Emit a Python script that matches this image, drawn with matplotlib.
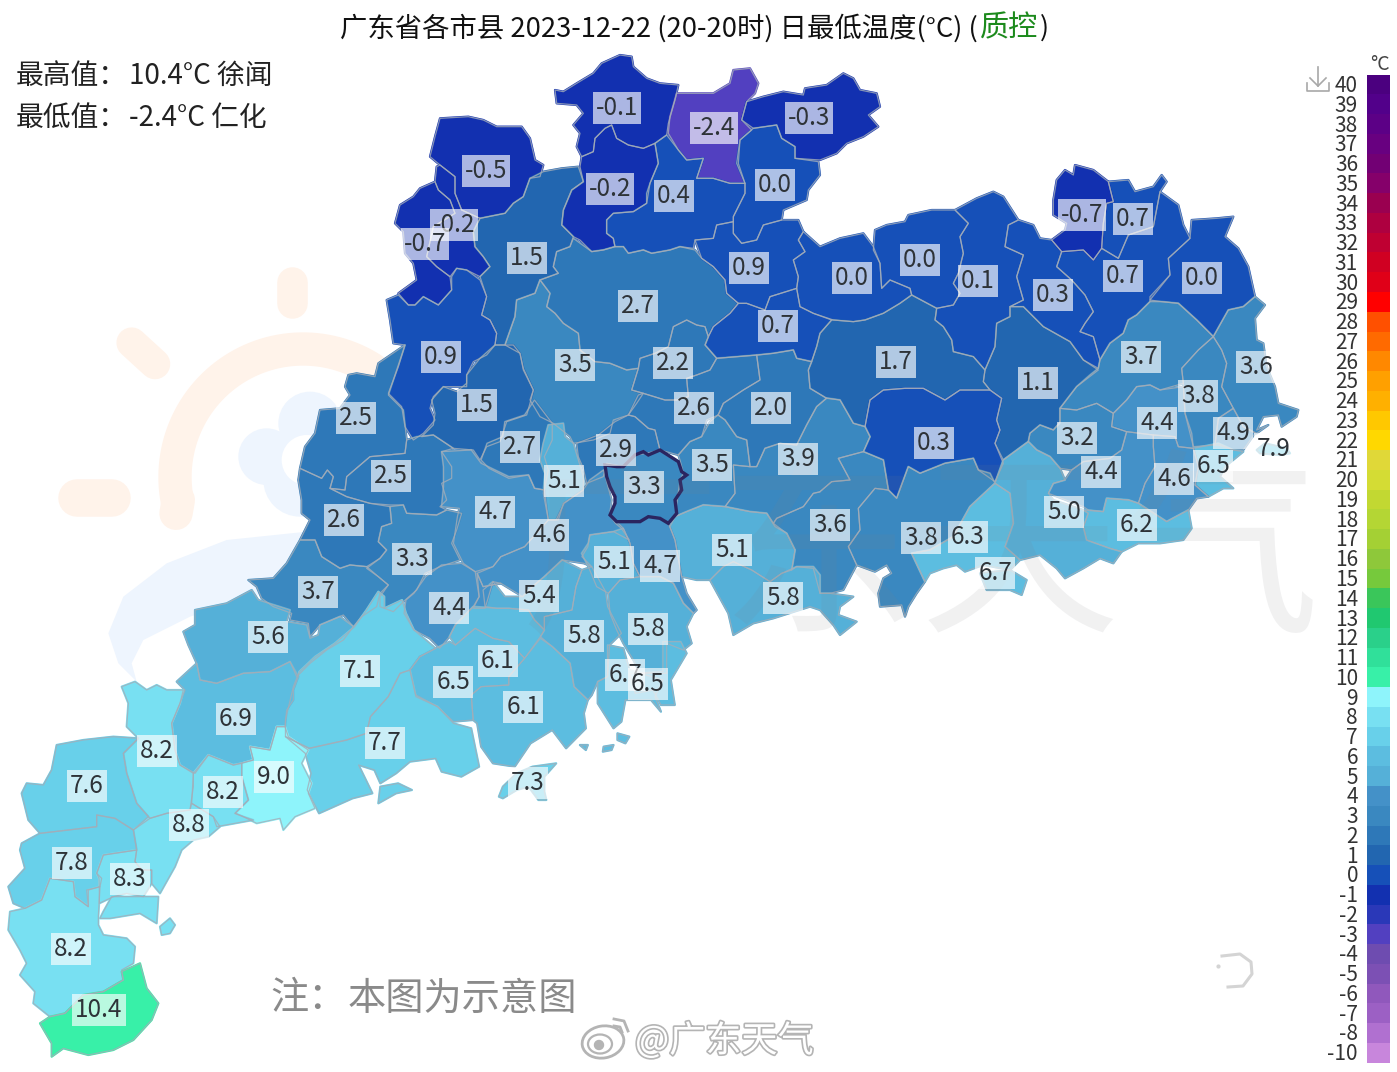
import numpy as np
import matplotlib
matplotlib.use("Agg")
import matplotlib.pyplot as plt
from matplotlib.collections import PolyCollection
from matplotlib.colors import ListedColormap, BoundaryNorm
from matplotlib.patches import Circle, Ellipse, Polygon
import matplotlib.patheffects as pe

plt.rcParams['font.family'] = ['Noto Sans CJK SC', 'DejaVu Sans']

# ---------- data ----------
legend_labels = [40,39,38,37,36,35,34,33,32,31,30,29,28,27,26,25,24,23,22,21,20,19,18,17,16,15,14,13,12,11,10,
                 9,8,7,6,5,4,3,2,1,0,-1,-2,-3,-4,-5,-6,-7,-8,-10]
legend_colors = ['#4b007f','#52008a','#5c0086','#680080','#720074','#85006a','#9a0050','#ae0040','#bf0032','#d00022',
                 '#e00018','#ff0000','#ff5000','#ff6a00','#ff8800','#ffa000','#ffb000','#ffc800','#ffd800','#e0d838',
                 '#d4dc34','#c2d832','#b4d634','#a4d034','#8ec83a','#76c93c','#3ac65a','#20c870','#2ad08a','#30e09a',
                 '#38f0a8','#8ef4fb','#78e0f2','#68d0ea','#5cbde0','#55b0d8','#4491c8','#3a88c0','#2e78b8','#2266b0',
                 '#1650b8','#1230b0','#2a38b8','#5240c0','#6e4cb0','#7c50b4','#9058bc','#9c60c4','#b070d0','#c886dc']

county_ids = ['n01','n02','n03','n04','n05','n06','n07','n08','n09','n10','n11','n12','n13','n14','n15','n16','n17','n18','n19','n20',
              'n21','n22','n23','n24','n25','n26','n27','n28','n29','n30','n31','n32','n33','n34','n35','n36','n37','n38','n39','n40',
              'n41','n42','n43','n44','n45','n46','n47','n48','n49','n50','n51','n52','n53','n54','n55','n56','n57','n58','n59','n60',
              'n61','n62','n63','n64','n65','n66','n67','n68','n69','n70','n71','n72','n73','n74','n75','n76','n77','n78','n79','n80',
              'n81','n82','n83','n84','n85','n86']
min_temps = [-0.1,-2.4,-0.3,-0.5,-0.2,0.4,0.0,-0.2,-0.7,1.5,2.7,0.9,0.0,0.0,0.1,0.3,0.7,0.7,-0.7,0.0,
             0.7,0.9,3.5,2.2,1.7,1.1,3.7,3.6,3.8,1.5,2.6,2.0,2.5,4.4,4.9,7.9,3.2,0.3,2.7,2.9,
             3.5,3.9,6.5,4.4,4.6,2.5,5.1,3.3,4.7,5.0,6.2,2.6,3.6,4.6,3.8,6.3,5.1,3.3,5.1,4.7,
             6.7,3.7,5.4,5.8,4.4,5.8,5.6,5.8,6.1,7.1,6.7,6.5,6.5,6.1,6.9,7.7,8.2,9.0,7.3,7.6,
             8.2,8.8,7.8,8.3,8.2,10.4]
label_x = [617,714,809,486,610,674,775,454,425,527,638,749,852,920,978,1053,1123,1133,1082,1202,
           778,441,575,673,896,1038,1141,1256,1198,477,694,771,356,1157,1233,1274,1077,934,520,616,
           712,798,1213,1101,1174,391,564,644,495,1064,1137,344,830,549,921,968,732,412,614,660,
           995,318,539,783,449,648,268,584,498,360,625,453,648,523,236,385,157,274,528,87,
           223,189,72,130,71,99]
label_y = [106,126,116,169,187,194,183,223,242,256,304,266,276,258,279,293,274,217,213,276,
           324,355,363,361,360,381,355,365,394,403,406,406,416,421,431,447,436,441,445,448,
           463,457,464,470,477,474,479,485,510,510,523,518,523,533,536,535,548,557,560,564,
           571,590,594,596,606,627,635,634,659,669,673,680,682,705,717,741,749,775,781,784,
           790,823,861,877,947,1008]


def G(ox, oy, sx=3.0, sy=3.0):
    return lambda pts: [(ox + x / sx, oy + y / sy) for x, y in pts]

G1 = G(380, 50)
G2 = G(820, 160)
G3 = G(240, 400, 2.53, 3.0)
G4 = G(240, 350)
G5 = G(520, 380)
G6 = G(0, 670)
G7 = G(40, 250)

county_outlines = {
 'n01': [G1([(525,120),(550,125),(590,100),(640,70),(665,40),(720,15),(755,20),(760,50),(800,85),(840,100),(895,105),(885,150),(865,220),(860,255),(825,280),(790,295),(745,285),(710,265),(695,225),(675,235),(645,265),(640,305),(605,320),(590,290),(600,250),(580,225),(610,190),(590,165),(530,160)])],
 'n02': [G1([(890,130),(1000,130),(1050,100),(1060,60),(1110,55),(1135,100),(1125,130),(1100,155),(1085,210),(1115,240),(1080,270),(1075,340),(1095,400),(1050,400),(1000,385),(950,385),(970,325),(920,330),(895,300),(865,250),(870,200)])],
 'n03': [G1([(1100,155),(1150,140),(1210,125),(1270,135),(1275,115),(1340,105),(1390,70),(1420,85),(1440,120),(1490,130),(1500,170),(1465,195),(1495,230),(1450,260),(1400,280),(1370,310),(1320,330),(1245,325),(1245,290),(1205,265),(1190,225),(1120,235),(1085,210)])],
 'n04': [G1([(180,205),(265,200),(310,210),(350,230),(425,230),(450,265),(465,330),(490,345),(480,380),(450,385),(430,440),(400,460),(375,490),(300,505),(245,480),(225,430),(225,380),(180,345),(150,320),(165,260)])],
 'n05': [G1([(645,265),(675,235),(695,225),(710,265),(745,285),(790,295),(825,280),(835,340),(810,400),(800,460),(760,485),(700,490),(680,510),(680,550),(700,565),(705,590),(670,600),(635,605),(600,570),(580,560),(545,525),(550,480),(575,420),(610,395),(600,350),(605,320),(640,305)])],
 'n06': [G1([(825,280),(860,255),(895,300),(920,330),(970,325),(950,385),(1000,385),(1050,400),(1095,400),(1095,430),(1060,500),(1060,515),(1010,525),(1000,565),(945,570),(940,595),(900,590),(870,600),(815,610),(790,600),(745,610),(730,590),(705,590),(700,565),(680,550),(680,510),(700,490),(760,485),(800,460),(800,430),(810,400),(835,340)])],
 'n07': [G1([(1080,270),(1120,235),(1190,225),(1205,265),(1245,290),(1245,325),(1315,335),(1320,375),(1285,420),(1280,450),(1210,480),(1205,510),(1150,525),(1130,570),(1085,580),(1060,550),(1060,500),(1095,430),(1095,400),(1070,340)])],
 'n08': [G1([(165,395),(170,350),(180,345),(225,380),(225,430),(245,480),(300,505),(280,545),(285,590),(310,620),(330,650),(300,680),(260,660),(230,655),(210,680),(170,650),(140,620),(160,530),(225,490),(210,450),(175,420)])],
 'n09': [G1([(60,465),(100,440),(120,415),(165,395),(175,420),(210,450),(225,490),(160,530),(140,620),(170,650),(210,680),(215,720),(175,765),(130,740),(105,765),(85,765),(55,730),(110,690),(100,640),(75,610),(70,545),(45,520)])],
 'n10': [G1([(300,505),(375,490),(400,460),(430,440),(450,385),(490,365),(545,355),(595,350),(610,395),(575,420),(550,480),(545,525),(580,560),(570,590),(530,605),(520,650),(535,670),(480,690),(465,730),(410,750),(405,800),(375,885),(345,885),(350,850),(330,810),(305,795),(320,740),(300,680),(330,650),(310,620),(285,590),(280,545)])],
 'n11': [G1([(480,690),(535,670),(520,650),(530,605),(570,590),(580,565),(635,605),(670,600),(705,590),(730,590),(745,610),(790,600),(815,610),(870,600),(900,590),(945,600),(965,625),(1000,650),(1035,690),(1040,730),(1075,760),(1050,790),(1000,830),(985,860),(975,830),(950,825),(920,810),(880,830),(865,890),(825,910),(780,925),(775,955),(740,960),(690,940),(645,935),(600,900),(595,850),(550,820),(525,790),(500,770),(510,730)])],
 'n12': [G1([(945,570),(1000,565),(1010,525),(1060,515),(1060,550),(1085,580),(1130,570),(1150,525),(1205,510),(1255,510),(1270,545),(1255,570),(1275,605),(1240,630),(1255,680),(1250,715),(1170,740),(1155,780),(1100,760),(1075,760),(1040,730),(1035,690),(1000,650),(965,625)])],
 'n13': [G1([(1240,630),(1275,605),(1255,570),(1270,545),(1320,590),(1380,565),(1450,550),(1480,590)]) + G2([(180,310),(185,385),(210,360),(270,385),(275,405),(240,430),(190,460),(135,480),(100,485),(40,480)]) + G1([(1300,790),(1260,770),(1250,715),(1255,680)])],
 'n14': [G2([(160,270),(165,210),(200,195),(255,185),(265,165),(335,150),(405,150),(445,190),(420,230),(430,280),(415,340),(400,370),(420,400),(400,435),(350,445),(275,405),(270,385),(210,360),(185,385),(180,310)])],
 'n15': [G2([(405,150),(470,115),(520,95),(550,110),(595,180),(565,195),(555,260),(610,285),(590,350),(610,420),(570,440),(570,470),(530,490),(525,560),(495,630),(460,590),(400,575),(395,540),(370,500),(345,480),(350,445),(400,435),(420,400),(400,370),(415,340),(430,280),(420,230),(445,190)])],
 'n16': [G2([(595,180),(640,195),(660,235),(695,240),(725,275),(710,320),(755,360),(795,405),(820,455),(795,490),(780,515),(820,530),(840,600),(835,625),(790,600),(750,545),(670,500),(610,440),(570,440),(610,420),(590,350),(610,285),(555,260),(565,195)])],
 'n17': [G2([(725,275),(790,270),(820,300),(845,265),(895,295),(925,225),(1000,200),(1020,95),(1075,135),(1090,195),(1110,235),(1045,295),(1050,345),(990,410),(990,425),(950,465),(925,480),(910,520),(870,550),(840,600),(820,530),(780,515),(795,490),(820,455),(795,405),(755,360),(710,320)])],
 'n18': [G2([(865,65),(925,60),(945,95),(1000,80),(1025,45),(1040,65),(1020,95),(1000,200),(925,225),(895,295),(845,265),(850,190),(860,130),(880,125)])],
 'n19': [G2([(700,120),(710,60),(735,30),(760,45),(765,15),(820,30),(865,65),(880,125),(860,130),(850,190),(845,265),(820,300),(790,270),(725,275),(695,240),(735,210),(740,190),(700,165)])],
 'n20': [G2([(1110,235),(1115,180),(1190,175),(1240,170),(1215,230),(1255,265),(1285,320),(1305,410),(1270,440),(1225,450),(1180,530),(1130,480),(1075,430),(1025,425),(990,420),(1050,345),(1045,295)])],
 'n21': [G1([(985,860),(1000,830),(1050,790),(1075,760),(1100,760),(1155,780),(1170,740),(1250,715),(1260,770),(1300,790),(1355,810),(1320,850),(1310,890),(1295,935),(1250,925),(1240,900),(1180,910),(1135,915),(1010,925),(975,885)])],
 'n22': [G1([(20,750),(55,735),(85,765),(105,765),(130,740),(175,765),(215,720),(215,680),(230,655),(260,660),(300,690),(320,740),(305,795),(330,810),(350,850),(345,885),(320,915),(280,935),(260,975),(260,1010),(210,1010),(190,1010),(160,1040),(150,1075),(165,1110),(130,1150),(100,1170),(75,1130),(65,1070),(25,1030),(55,950),(75,885),(40,880),(30,810)])],
 'n23': [G1([(410,750),(465,730),(480,690),(510,730),(500,770),(525,790),(550,820),(595,850),(600,900),(645,935),(690,940),(740,960),(775,955),(755,1020),(790,1030),(770,1060),(745,1095),(700,1110),(690,1150),(640,1170),(580,1180),(570,1160),(520,1120),(480,1100),(450,1050),(460,1020),(430,960),(420,910),(375,885),(405,800)])],
 'n24': [G1([(780,925),(825,910),(865,890),(880,830),(920,810),(950,825),(975,830),(985,860),(975,885),(1010,925),(990,960),(950,975),(920,985),(925,1040),(890,1050),(855,1050),(790,1030),(755,1020),(775,955)])],
 'n25': [G1([(1355,810),(1320,850),(1310,890),(1295,935),(1285,960),(1290,1015),(1340,1045)]) + G2([(60,720),(100,790),(135,800),(150,720),(190,690),(255,685),(310,685),(375,720),(420,690),(510,690),(490,665),(495,630),(460,590),(400,575),(395,540),(370,500),(345,480),(350,445),(275,405),(240,430),(190,460),(135,480),(100,485),(40,480)])],
 'n26': [G2([(495,630),(525,560),(530,490),(570,470),(570,440),(610,440),(670,500),(750,545),(790,600),(835,630),(770,680),(720,745),(720,785),(700,810),(660,795),(630,820),(625,845),(550,900),(525,850),(540,810),(530,780),(545,715),(510,690),(490,665)])],
 'n27': [G2([(835,625),(840,600),(870,550),(910,520),(925,480),(950,465),(990,425),(1025,425),(1075,430),(1130,480),(1180,530),(1135,570),(1085,625),(1090,670),(1020,690),(990,675),(950,680),(920,720),(880,760),(830,730),(770,750),(720,745),(770,680),(810,645)])],
 'n28': [G2([(1180,530),(1225,450),(1270,440),(1305,410),(1335,435),(1305,475),(1310,540),(1330,550),(1340,620),(1365,680),(1375,730),(1435,750),(1430,770),(1385,800),(1375,765),(1330,770),(1310,810),(1345,795),(1310,820),(1270,800),(1240,745),(1205,680),(1220,610),(1205,570)])],
 'n29': [G2([(1180,530),(1205,570),(1220,610),(1205,680),(1240,745),(1195,775),(1185,855),(1120,860),(1095,760),(1090,670),(1085,625),(1135,570)])],
 'n30': [G4([(765,-15),(720,25),(680,75),(680,100),(650,125),(610,110),(575,150),(585,190),(580,225),(545,260),(580,255),(640,295),(700,300),(720,330),(740,290),(780,275),(800,215),(860,195),(870,160),(880,120),(850,55),(840,10),(820,-15)])],
 'n31': [G1([(790,1030),(855,1050),(890,1050),(925,1040),(920,985),(950,975),(990,960),(1010,925),(1130,915),(1140,990),(1090,1020),(1030,1060),(1015,1095),(980,1110)]) + G5([(545,170),(510,185),(475,225),(420,210),(405,150),(385,145),(345,110),(325,105),(355,45)])],
 'n32': [G1([(1130,915),(1180,910),(1240,900),(1250,925),(1295,935),(1285,960),(1290,1015),(1340,1045)]) + G5([(890,80),(860,135),(830,195),(780,190),(735,205),(710,260),(690,260),(680,180),(650,170),(615,120),(594,105)]) + G1([(1030,1060),(1090,1020),(1140,990)])],
 'n33': [G4([(325,75),(350,70),(405,80),(415,40),(495,-15),(445,135),(490,180),(500,270),(495,310),(390,320),(320,380),(315,420),(270,415),(280,380),(262,360),(245,385),(180,355),(195,290),(225,250),(240,180),(300,175),(330,135),(315,110)])],
 'n34': [G2([(880,760),(920,720),(950,680),(990,675),(1020,690),(1090,680),(1095,760),(1115,820),(1120,865),(1075,860),(1065,830),(1000,825),(920,815),(875,800)])],
 'n35': [G2([(1240,745),(1270,800),(1305,820),(1270,870),(1240,870),(1195,855),(1185,855),(1195,775)])],
 'n36': [G2([(1310,870),(1335,850),(1400,865),(1410,880),(1380,885),(1320,880)])],
 'n37': [G2([(660,795),(700,810),(720,790),(720,745),(770,750),(830,730),(880,760),(875,800),(920,815),(905,870),(870,895),(790,905),(755,930),(720,925),(690,890),(650,870),(625,845),(630,820)])],
 'n38': [G2([(135,800),(150,720),(190,690),(255,685),(310,685),(375,720),(420,690),(510,690),(545,715),(530,780),(540,810),(525,850),(550,910),(525,965),(475,930),(460,895),(375,910),(300,940),(265,920),(230,1015),(205,990),(190,900),(130,875),(150,830)])],
 'n39': [G3([(610,180),(625,130),(665,110),(670,65),(720,45),(745,0),(790,70),(790,120),(770,170),(780,210),(770,270),(745,265),(730,225),(680,235),(630,205)])],
 'n40': [G5([(170,190),(235,165),(285,125),(325,105),(345,110),(385,145),(405,150),(420,210),(380,220),(345,225),(310,260),(260,250),(250,290),(200,310),(190,265),(175,230)])],
 'n41': [G5([(475,225),(510,185),(545,170),(570,125),(594,105),(615,120),(650,170),(680,180),(690,260),(640,255),(645,340),(615,380),(550,375),(500,395),(465,410),(480,300),(490,280),(480,240)])],
 'n42': [G5([(710,260),(735,205),(780,190),(830,195),(860,135),(890,80),(920,54)]) + G2([(60,720),(100,790),(135,800),(150,830),(130,875),(55,895),(90,960),(35,965),(0,995)]) + G5([(880,340),(850,380),(770,415),(760,430),(740,400),(690,395),(615,380),(645,340),(640,255),(690,260)])],
 'n43': [G2([(1120,865),(1195,850),(1240,870),(1270,875),(1215,920),(1200,950),(1240,985),(1210,985),(1165,1010),(1125,975),(1135,920)])],
 'n44': [G2([(920,815),(1000,825),(1000,860),(1005,920),(975,970),(955,1030),(925,1020),(860,1015),(850,1055),(805,1050),(790,1040),(685,1000),(700,970),(735,960),(755,930),(790,905),(870,895),(905,870)])],
 'n45': [G2([(1000,825),(1065,830),(1075,860),(1120,865),(1135,920),(1125,975),(1165,1010),(1130,1015),(1105,1050),(1040,1085),(955,1030),(975,970),(1005,920),(1000,860)])],
 'n46': [G4([(500,270),(530,260),(580,255),(640,295),(605,305),(635,350),(635,385),(605,400),(620,450),(600,470),(620,480),(590,495),(500,490),(490,465),(450,465),(390,460),(320,440),(270,415),(315,420),(320,380),(390,320),(495,310)])],
 'n47': [G5([(85,135),(130,130),(135,170),(160,190),(175,240),(190,290),(190,330),(130,370),(115,420),(85,420),(70,340),(75,280),(60,240),(70,190)])],
 'n48': [G5([(255,255),(290,260),(310,260),(345,225),(370,215),(385,225),(420,210),(475,245),(485,275),(500,285),(480,300),(485,330),(465,360),(470,400),(445,430),(420,415),(385,410),(360,425),(290,425),(270,405),(285,370),(285,350),(270,320),(260,290)])],
 'n49': [G3([(510,155),(585,150),(610,190),(680,230),(730,225),(745,265),(770,270),(780,360),(720,440),(660,470),(640,500),(595,515),(565,490),(540,430),(550,350),(555,325),(510,320),(515,260),(515,200)])],
 'n50': [G2([(625,845),(650,870),(690,890),(720,925),(735,960),(700,970),(685,1000),(700,1020),(790,1050),(805,1060),(790,1100),(800,1140),(870,1165),(905,1175),(880,1210),(840,1195),(790,1225),(735,1255),(710,1225),(660,1185),(600,1200),(555,1160),(580,1090),(570,1000),(525,970),(550,900)])],
 'n51': [G2([(790,1050),(850,1055),(860,1015),(925,1020),(955,1030),(1040,1085),(1105,1050),(1115,1105),(1090,1140),(1020,1150),(955,1150),(905,1175),(870,1165),(800,1140),(790,1100),(805,1060)])],
 'n52': [G4([(180,355),(245,385),(262,360),(280,380),(270,415),(320,440),(390,460),(450,470),(455,520),(425,530),(415,575),(440,600),(420,625),(380,650),(330,645),(300,655),(245,620),(225,570),(180,570),(210,510),(185,490),(185,450),(175,390)])],
 'n53': [G5([(760,430),(770,415),(850,380),(880,340),(900,336)]) + G2([(0,995),(35,965),(90,960),(55,895),(130,875),(190,900),(205,990),(165,985),(115,1045),(120,1110),(85,1160),(110,1215),(70,1290),(30,1300),(0,1300)]) + G5([(880,565),(830,560),(815,570),(825,510),(800,460)])],
 'n54': [G3([(868,270),(885,240),(920,210),(940,300),(935,345),(950,370),(965,385),(985,420),(945,395),(885,405),(880,440),(865,470),(890,500),(870,490),(815,480),(770,530),(740,560),(715,590),(660,550),(615,560),(600,520),(640,500),(660,470),(720,440),(780,360),(800,360),(820,310)])],
 'n55': [G2([(205,990),(230,1015),(265,920),(300,940),(375,910),(460,895),(475,930),(510,940),(525,970),(450,1040),(400,1130),(330,1170),(275,1180),(315,1265),(290,1300),(265,1340),(255,1370),(245,1335),(180,1340),(175,1300),(190,1255),(215,1240),(200,1215),(165,1235),(110,1215),(85,1160),(120,1110),(115,1045),(165,985)])],
 'n56': [G2([(525,970),(570,1000),(580,1090),(555,1160),(600,1200),(570,1230),(490,1215),(435,1235),(410,1215),(370,1225),(330,1240),(315,1265),(275,1180),(330,1170),(400,1130),(450,1040)])],
 'n57': [G5([(465,410),(500,395),(550,375),(615,380),(690,395),(740,400),(765,440),(800,460),(825,510),(815,570),(785,580),(750,605),(695,570),(640,545),(610,560),(570,600),(530,600),(485,590),(465,480),(450,440)])],
 'n58': [G4([(450,470),(490,465),(500,490),(590,495),(620,480),(665,490),(650,540),(635,580),(660,630),(600,650),(555,670),(530,720),(490,755),(460,785),(420,770),(420,740),(445,705),(415,680),(380,655),(420,625),(440,600),(415,575),(425,530),(455,520)])],
 'n59': [G5([(210,465),(280,455),(310,445),(330,490),(340,550),(360,590),(300,600),(265,640),(230,620),(205,560),(185,520),(205,490)])],
 'n60': [G5([(290,425),(360,425),(385,410),(420,415),(445,430),(465,480),(485,590),(500,640),(530,690),(520,700),(490,670),(460,610),(420,590),(360,590),(340,550),(330,490),(310,445)])],
 'n61': [G2([(480,1240),(570,1230),(620,1260),(605,1305),(570,1290),(500,1290)])],
 'n62': [G4([(25,690),(100,685),(140,640),(180,570),(225,570),(245,620),(300,655),(330,645),(380,650),(415,680),(445,705),(420,730),(410,770),(365,800),(340,830),(310,795),(240,825),(210,860),(205,820),(150,810),(155,790),(100,770),(65,745),(50,710)])],
 'n63': [G3([(640,545),(670,590),(715,590),(740,560),(770,530),(815,480),(865,510),(850,560),(840,630),(770,650),(770,690),(745,660),(730,630),(680,625),(650,625),(620,620),(615,570)])],
 'n64': [G5([(570,600),(610,560),(640,545),(695,570),(750,605),(785,580),(830,560),(880,560),(900,585)]) + G2([(0,1300),(30,1300),(100,1310),(60,1340),(55,1365),(110,1385),(60,1425),(40,1395),(0,1350),(-30,1340)]) + G5([(760,715),(700,730),(640,765),(625,700)])],
 'n65': [G3([(560,490),(595,515),(605,590),(590,620),(545,675),(530,710),(505,745),(480,715),(440,690),(415,640),(420,600),(440,580),(470,530),(510,495)]), G3([(600,520),(615,560),(660,550),(640,545),(620,625),(590,625),(605,590)])],
 'n66': [G5([(265,640),(300,600),(360,590),(420,590),(460,610),(490,670),(520,700),(500,740),(515,790),(490,810),(440,790),(440,880),(410,880),(360,880),(340,840),(310,790),(290,750),(270,700)])],
 'n67': [G7([(465,1080),(560,1060),(635,1020),(655,1050),(750,1080),(740,1115),(800,1125),(810,1165),(835,1155),(840,1125),(900,1100),(940,1130),(910,1170),(860,1200),(810,1240),(770,1280),(750,1235),(690,1265),(610,1270),(530,1300),(480,1290),(470,1240),(445,1185),(430,1145),(465,1125)])],
 'n68': [G3([(770,690),(770,650),(840,630),(850,560),(865,510),(890,500),(925,575),(930,620),(965,700),(935,735),(930,830),(905,845),(890,885),(880,900),(845,860),(835,790),(790,740),(760,710)])],
 'n69': [G3([(530,710),(545,675),(590,620),(650,625),(680,625),(730,630),(745,660),(770,690),(760,710),(720,775),(680,725),(640,715),(595,685),(545,735)])],
 'n70': [G3([(350,575),(365,590),(365,625),(410,600),(420,640),(440,690),(495,745),(455,770),(430,810),(405,820),(375,890),(330,950),(320,1000),(270,1020),(175,1045),(115,1010),(115,960),(135,860),(150,815),(190,770),(240,730),(290,680),(320,630)])],
 'n71': [G3([(930,735),(970,745),(985,810),(1070,840),(1050,890),(1065,935),(1040,900),(975,900),(965,965),(945,985),(905,910),(905,845),(930,830)]), G3([(955,1000),(985,1010),(975,1030),(955,1020)]), G3([(920,1040),(945,1035),(940,1050),(918,1055)])],
 'n72': [G3([(495,745),(530,725),(545,735),(595,685),(640,715),(680,725),(720,775),(680,830),(680,855),(610,860),(585,885),(590,960),(540,965),(500,920),(445,885),(430,810),(455,770)])],
 'n73': [G3([(1070,725),(1115,725),(1130,760),(1090,840),(1100,915),(1065,915),(1045,870),(1000,880),(985,820),(1070,815)])],
 'n74': [G3([(720,775),(760,715),(790,740),(835,790),(845,860),(880,900),(870,940),(875,985),(825,1045),(790,990),(735,1030),(695,1100),(640,1090),(610,1040),(600,970),(590,960),(585,885),(610,860),(680,855),(680,830)]), G3([(860,1035),(880,1035),(875,1050)])],
 'n75': [G7([(470,1240),(480,1290),(530,1300),(610,1270),(690,1265),(750,1235),(775,1280),(760,1320),(760,1350)]) + G6([(860,120),(855,170),(830,170),(810,240),(750,230),(760,270),(700,285),(625,255),(585,310),(540,285),(525,240),(515,160),(540,100),(555,60),(530,35)])],
 'n76': [G3([(115,1010),(175,1045),(270,1020),(320,1000),(330,950),(375,890),(405,820),(430,810),(445,890),(500,920),(540,970),(585,985),(605,1100),(560,1130),(510,1115),(495,1075),(430,1085),(395,1120),(355,1150),(340,1110),(300,1095),(335,1180),(285,1195),(200,1240),(170,1170),(180,1120),(165,1060)]), G3([(355,1160),(400,1150),(435,1170),(395,1180),(350,1210)])],
 'n77': [G6([(365,50),(405,35),(440,60),(470,45),(500,60),(550,60),(540,100),(515,160),(525,240),(540,285),(580,310),(580,350),(570,420),(500,430),(450,445),(410,400),(380,310),(370,250),(415,205),(380,170),(385,100)])],
 'n78': [G6([(750,230),(810,240),(830,170),(855,170),(865,200),(925,240),(905,280),(935,340),(925,370),(945,415),(885,440),(850,480),(840,445),(770,460),(730,440),(705,430),(745,390),(725,320),(725,280),(760,270)])],
 'n79': [G3([(655,1190),(665,1160),(700,1120),(740,1100),(800,1090),(770,1130),(770,1175),(775,1200),(755,1200),(730,1160),(700,1170),(665,1195)])],
 'n80': [G6([(170,225),(250,210),(340,200),(415,205),(370,250),(380,310),(410,400),(445,440),(400,480),(345,445),(290,435),(290,470),(120,490),(85,450),(65,370),(80,340),(130,345),(155,300)])],
 'n81': [G6([(580,310),(625,255),(700,285),(725,280),(725,320),(745,390),(705,430),(730,440),(760,450),(650,470),(640,440),(575,400)])],
 'n82': [G6([(400,480),(450,445),(500,430),(570,420),(575,400),(640,440),(660,470),(625,500),(580,510),(545,540),(525,590),(480,670),(455,640),(455,600),(425,600),(405,575),(410,540)])],
 'n83': [G6([(65,520),(120,490),(290,470),(290,435),(345,445),(400,480),(410,540),(310,555),(290,610),(305,625),(300,650),(260,660),(265,710),(225,680),(220,635),(150,625),(125,690),(75,715),(40,700),(25,650),(75,595),(60,540)])],
 'n84': [G6([(310,555),(410,540),(405,575),(425,600),(455,600),(455,640),(430,680),(380,670),(340,680),(298,700),(298,660),(297,625),(290,610)]), G6([(335,680),(475,680),(470,760),(420,730),(330,745),(300,745),(310,725)]), G6([(480,770),(510,745),(525,765),(510,790),(485,795)])],
 'n85': [G6([(30,725),(75,715),(125,690),(150,625),(220,635),(225,680),(265,710),(265,660),(300,650),(295,740),(295,765),(310,795),(380,805),(405,830),(400,880),(365,900),(370,930),(310,965),(250,975),(195,1030),(150,1040),(100,1000),(105,965),(60,915),(80,880),(60,840),(25,780)])],
 'n86': [G6([(120,1060),(150,1040),(195,1030),(250,975),(310,965),(370,930),(365,905),(420,880),(440,955),(475,1000),(455,1050),(400,1110),(340,1140),(265,1155),(190,1135),(155,1160),(155,1120)])],
}

highlight_id = 'n48'

# ---------- scale: each swatch covers [label, next label) ----------
levels = sorted(legend_labels) + [41]
cmap = ListedColormap(legend_colors[::-1])
norm = BoundaryNorm(levels, cmap.N)

# ---------- figure ----------
W, H = 1397, 1072
fig = plt.figure(figsize=(W / 100, H / 100), dpi=100)
ax = fig.add_axes([0, 0, 1, 1])
ax.set_xlim(0, W)
ax.set_ylim(H, 0)
ax.axis('off')

# background logo (faint)
SUN = '#fff3ea'
CLOUD = '#eef5fe'
ang = np.radians(np.linspace(169, 303, 60))
ax.plot(303 + 128 * np.cos(ang), 477 + 128 * np.sin(ang), color=SUN, lw=24,
        solid_capstyle='round', solid_joinstyle='round', zorder=1)
ax.plot(*zip(*G7([(415, 750), (408, 790)])), color=SUN, lw=24, solid_capstyle='round', zorder=1)
for seg, w in [([(110, 745), (215, 745)], 27), ([(275, 278), (345, 342)], 22), ([(757, 95), (757, 160)], 22)]:
    ax.plot(*zip(*G7(seg)), color=SUN, lw=w, solid_capstyle='round', zorder=1)
for (cx, cy), r in [((680, 620), 85), ((810, 520), 95), ((780, 690), 110)]:
    c = G7([(cx, cy)])[0]
    ax.add_patch(Circle(c, r / 3, color=CLOUD, lw=0, zorder=1.1))
ax.add_patch(Circle(G7([(800, 630)])[0], 25, color='white', lw=0, zorder=1.2))
ax.add_patch(Polygon(G7([(800, 845), (560, 870), (380, 940), (250, 1040), (205, 1150), (235, 1240), (290, 1295),
                         (275, 1240), (310, 1170), (450, 1100), (640, 1040), (780, 1000)]),
                     closed=True, color=CLOUD, lw=0, zorder=1.1))

# map
verts, vals = [], []
for cid, v in zip(county_ids, min_temps):
    for part in county_outlines[cid]:
        verts.append(part)
        vals.append(v)
ax.add_collection(PolyCollection(verts, array=vals, cmap=cmap, norm=norm, edgecolors='face', linewidths=1.6, zorder=2))
ax.add_collection(PolyCollection(verts, facecolors='none', edgecolors='#a3adb8', linewidths=0.9, alpha=0.8, zorder=3))
hv = county_outlines[highlight_id]
ax.add_patch(Polygon(hv[0], closed=True, fill=False, ec='#2a2560', lw=2.4, zorder=4))

# faint watermark
ax.text(1320, 560, '广东天气', ha='right', va='center', fontsize=144, color='#808088', alpha=0.11, zorder=4.5)

# value labels
for v, x, y in zip(min_temps, label_x, label_y):
    ax.text(x, y + 2, f'{v:.1f}', ha='center', va='center', fontsize=17.5, color='#2e3338', zorder=6,
            bbox=dict(boxstyle='square,pad=0.12', fc='white', ec='none', alpha=0.65))

# title and stats
ax.text(340, 28, '广东省各市县 2023-12-22 (20-20时) 日最低温度(°C) (', ha='left', va='center', fontsize=19.7, color='#111111', zorder=7)
ax.text(980, 28, '质控', ha='left', va='center', fontsize=21, color='#1c8a1c', zorder=7)
ax.text(1040, 28, ')', ha='left', va='center', fontsize=19.7, color='#111111', zorder=7)
ax.text(16, 76, '最高值：', ha='left', va='center', fontsize=20, color='#222222', zorder=7)
ax.text(129, 76, '10.4°C 徐闻', ha='left', va='center', fontsize=20, color='#222222', zorder=7)
ax.text(16, 118, '最低值：', ha='left', va='center', fontsize=20, color='#222222', zorder=7)
ax.text(129, 118, '-2.4°C 仁化', ha='left', va='center', fontsize=20, color='#222222', zorder=7)

# legend
step = 19.76
for i, (lab, col) in enumerate(zip(legend_labels, legend_colors)):
    y = 84.5 + i * step
    ax.bar(1378.5, step, width=23, bottom=y - step / 2, color=col, lw=0, zorder=5)
    ax.text(1358, y + 1.5, str(lab), ha='right', va='center', fontsize=15, color='#333333', zorder=7)
ax.text(1380, 64, '°C', ha='center', va='center', fontsize=14, color='#444444', zorder=7)
ax.plot([1307, 1307, 1329, 1329], [83, 91, 91, 83], color='#a8a8a8', lw=1.2, zorder=7)
ax.plot([1318, 1318], [67, 86], color='#a8a8a8', lw=1.2, zorder=7)
ax.plot([1310, 1318, 1326], [78, 86, 78], color='#a8a8a8', lw=1.2, zorder=7)

# notes
ax.text(270, 999, '注：', ha='left', va='center', fontsize=27.5, color='#8a8a8a', zorder=7)
ax.text(348, 999, '本图为示意图', ha='left', va='center', fontsize=27.5, color='#8a8a8a', zorder=7)
ax.plot([1222, 1240, 1251, 1252, 1243, 1228], [956, 954, 962, 974, 986, 987], color='#d4d4d4', lw=2.2, zorder=7)
ax.plot([1218], [966], marker='o', ms=2, color='#d4d4d4', zorder=7)

# weibo mark
stroke = [pe.withStroke(linewidth=2.4, foreground='#b4b4b4')]
ax.text(635, 1041, '@广东天气', ha='left', va='center', fontsize=26, color='white', path_effects=stroke, zorder=8)
ax.add_patch(Ellipse((603, 1042), 42, 32, angle=-10, fc='white', ec='#b4b4b4', lw=2, zorder=8))
ax.add_patch(Ellipse((600, 1044), 24, 19, fc='white', ec='#b4b4b4', lw=1.6, zorder=8))
ax.add_patch(Circle((599, 1045), 4.5, color='#b4b4b4', zorder=8))
ax.plot([614, 624, 628], [1019, 1021, 1031], color='#b4b4b4', lw=2, zorder=8)
ax.plot([614, 620, 622], [1026, 1027, 1032], color='#b4b4b4', lw=2, zorder=8)

fig.savefig('out.png', dpi=100, facecolor='white')
